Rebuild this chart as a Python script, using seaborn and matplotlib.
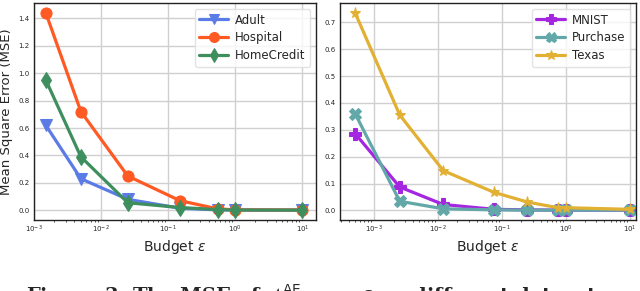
import numpy as np
import pandas as pd
import matplotlib
matplotlib.use('Agg')
import matplotlib.pyplot as plt
import seaborn as sns

# left panel: tabular datasets
eps_left = [0.0015, 0.005, 0.025, 0.15, 0.55, 1.0, 10.0]
adult = [0.62, 0.23, 0.08, 0.015, 0.003, 0.002, 0.001]
hospital = [1.44, 0.72, 0.25, 0.07, 0.01, 0.003, 0.002]
homecredit = [0.95, 0.39, 0.055, 0.02, 0.005, 0.002, 0.001]

# right panel: image / other datasets
eps_right = [0.0005, 0.0025, 0.012, 0.075, 0.25, 0.75, 1.0, 10.0]
mnist = [0.286, 0.087, 0.022, 0.004, 0.002, 0.001, 0.001, 0.001]
purchase = [0.36, 0.034, 0.006, 0.002, 0.001, 0.001, 0.001, 0.001]
texas = [0.735, 0.355, 0.148, 0.067, 0.031, 0.01, 0.01, 0.004]

left_series = [('Adult', adult, 'v', '#5b7be6'),
               ('Hospital', hospital, 'o', '#ff5a23'),
               ('HomeCredit', homecredit, 'd', '#3e8e5e')]
right_series = [('MNIST', mnist, 'P', '#a526e0'),
                ('Purchase', purchase, 'X', '#62a8a8'),
                ('Texas', texas, '*', '#e2b032')]

sns.set_style('whitegrid')
plt.rcParams['font.family'] = ['DejaVu Sans']

fig = plt.figure(figsize=(6.4, 2.91), dpi=100)
ax1 = fig.add_axes([34 / 640, 1 - 220 / 291, 282 / 640, 217 / 291])
ax2 = fig.add_axes([340 / 640, 1 - 220 / 291, 296 / 640, 217 / 291])


def draw(ax, eps, series):
    for name, vals, mk, col in series:
        df = pd.DataFrame({'eps': eps, 'mse': vals})
        sns.lineplot(data=df, x='eps', y='mse', marker=mk, color=col, label=name,
                     linewidth=2.3, markersize=8, markeredgecolor=col, ax=ax)
    ax.set_xscale('log')
    ax.set_ylabel('')
    ax.set_xlabel(r'Budget $\varepsilon$', fontsize=10, labelpad=2)
    ax.tick_params(axis='both', labelsize=5, length=0, pad=3)
    ax.tick_params(axis='x', which='minor', bottom=True, length=1.5, width=0.6, color='#333333')
    ax.grid(True, which='major', color='#d0d0d0', linewidth=1)
    ax.grid(False, which='minor')
    for s in ax.spines.values():
        s.set_color('#222222')
        s.set_linewidth(1)
    leg = ax.legend(loc='upper right', fontsize=8.5, frameon=True, handlelength=2.4,
                    borderpad=0.4, labelspacing=0.4, handletextpad=0.6, markerscale=0.9)
    leg.get_frame().set_edgecolor('#dddddd')


draw(ax1, eps_left, left_series)
draw(ax2, eps_right, right_series)

ax1.set_xlim(1e-3, 1.6e1)
ax1.set_xticks([1e-3, 1e-2, 1e-1, 1e0, 1e1])
ax2.set_xlim(2.9e-4, 1.25e1)
ax2.set_xticks([1e-3, 1e-2, 1e-1, 1e0, 1e1])
ax1.set_yticks(np.arange(0, 1.41, 0.2))
ax2.set_yticks(np.arange(0, 0.71, 0.1))
ax1.set_ylabel('Mean Square Error (MSE)', fontsize=9.5, labelpad=4)

# paper caption, cut off by the bottom edge as in the original crop
fig.text(0.495, 9 / 291, r'Figure 3: The MSE of $\mathcal{A}^{\mathrm{AE}}$ over $\varepsilon$ on different datasets',
         ha='center', va='top', fontsize=14, fontweight='bold', family='DejaVu Serif')

fig.savefig('out.png', dpi=100)
